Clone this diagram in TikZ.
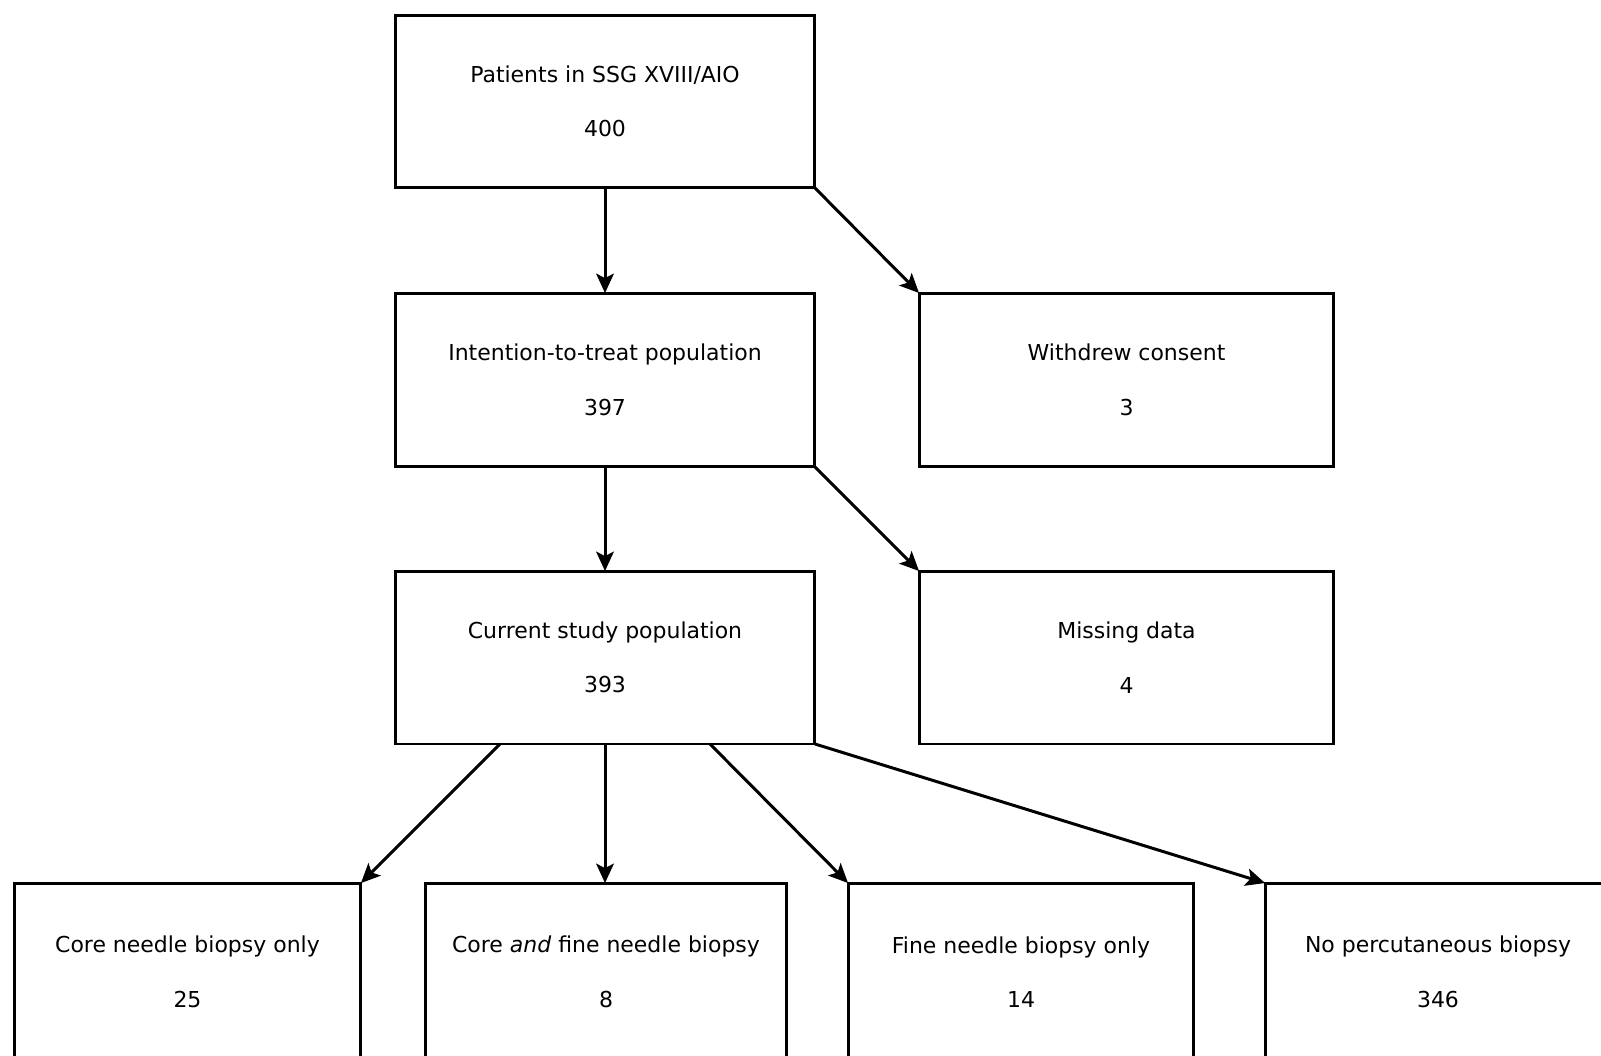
\documentclass[tikz,border=0pt]{standalone}
\usepackage{fontspec}
\setmainfont{DejaVu Sans}
\usetikzlibrary{arrows.meta,calc}

\begin{document}
\begin{tikzpicture}[x=0.02cm, y=-0.02cm,
    box/.style={draw, line width=1.7pt, inner sep=0pt, outer sep=0pt, align=center,
        font=\fontsize{12.5}{15}\selectfont},
    arr/.style={line width=1.7pt, -{Stealth[length=11pt, width=10pt, inset=2.5pt]}}]

    \useasboundingbox (0,0) rectangle (1601,1055);
    \clip (0,0) rectangle (1601,1055);

    % Enrolment
    \node[box, minimum width=8.4cm, minimum height=3.46cm] (pat) at (605,101.5)
        {Patients in SSG XVIII/AIO\\[16pt]400};

    % Row 2
    \node[box, minimum width=8.4cm, minimum height=3.48cm] (itt) at (605,380)
        {Intention-to-treat population\\[16pt]397};
    \node[box, minimum width=8.3cm, minimum height=3.48cm] (wdc) at (1126.5,380)
        {Withdrew consent\\[16pt]3};

    % Row 3
    \node[box, minimum width=8.4cm, minimum height=3.46cm] (csp) at (605,657.5)
        {Current study population\\[16pt]393};
    \node[box, minimum width=8.3cm, minimum height=3.46cm] (mis) at (1126.5,657.5)
        {Missing data\\[16pt]4};

    % Biopsy groups
    \node[box, minimum width=6.94cm, minimum height=3.56cm] (cnb) at (187.5,972)
        {Core needle biopsy only\\[16pt]25};
    \node[box, minimum width=7.24cm, minimum height=3.56cm] (cfn) at (606,972)
        {Core \textit{and} fine needle biopsy\\[16pt]8};
    \node[box, minimum width=6.92cm, minimum height=3.56cm] (fnb) at (1021,972)
        {Fine needle biopsy only\\[16pt]14};
    \node[box, minimum width=6.92cm, minimum height=3.56cm] (npb) at (1438,972)
        {No percutaneous biopsy\\[16pt]346};

    % Arrows
    \draw[arr] (pat.south) -- (itt.north);
    \draw[arr] (pat.south east) -- (wdc.north west);
    \draw[arr] (itt.south) -- (csp.north);
    \draw[arr] (itt.south east) -- (mis.north west);
    \draw[arr] ($(csp.south west)!0.25!(csp.south east)$) -- (cnb.north east);
    \draw[arr] (csp.south) -- (csp.south |- cfn.north);
    \draw[arr] ($(csp.south west)!0.75!(csp.south east)$) -- (fnb.north west);
    \draw[arr] (csp.south east) -- (npb.north west);

\end{tikzpicture}
\end{document}
